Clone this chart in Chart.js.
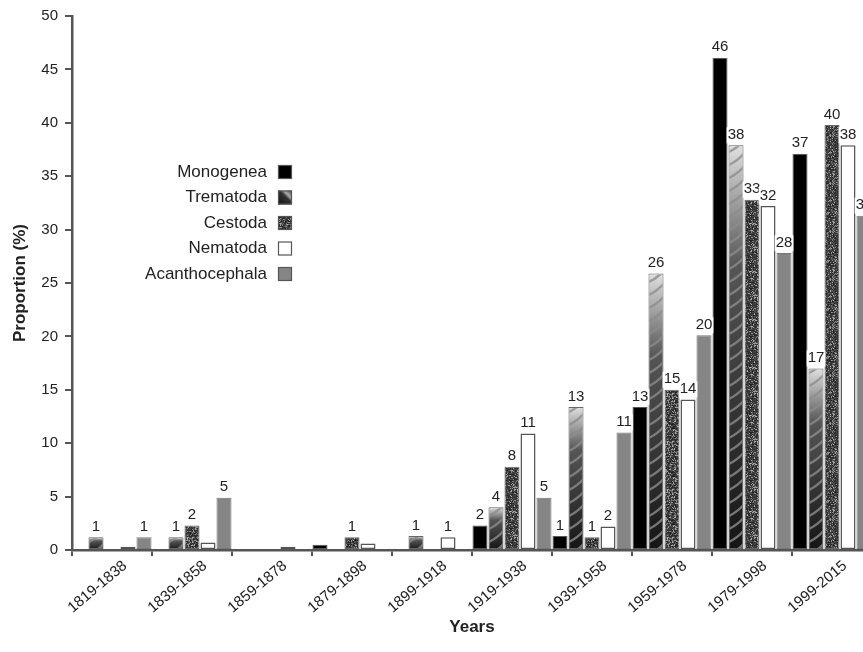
<!DOCTYPE html>
<html>
<head>
<meta charset="utf-8">
<script src="https://cdn.jsdelivr.net/npm/chart.js@4/dist/chart.umd.min.js"></script>
<style>
html, body { margin: 0; padding: 0; background: #fff; overflow: hidden; }
canvas { display: block; }
</style>
</head>
<body>
<canvas id="chart" width="890" height="652"></canvas>
<script>
const periods = ["1819-1838", "1839-1858", "1859-1878", "1879-1898", "1899-1918",
                 "1919-1938", "1939-1958", "1959-1978", "1979-1998", "1999-2015"];

const monogenea      = [0,   0,   0,   0.5, 0,   2.3, 1.3,  13.4, 46.1, 37.1];
const trematoda      = [1.2, 1.2, 0,   0,   1.3, 4.0, 13.4, 25.9, 37.9, 17.0];
const cestoda        = [0,   2.3, 0,   1.2, 0,   7.8, 1.2,  15.0, 32.8, 39.8];
const nematoda       = [0.3, 0.7, 0.3, 0.6, 1.2, 10.9, 2.2, 14.1, 32.2, 37.9];
const acanthocephala = [1.2, 4.9, 0,   0,   0,   4.9, 11.0, 20.1, 27.8, 31.3];

const FONT = '"Liberation Sans", Arial, sans-serif';
const TEXT = "#222";
const AXIS = "#555";

// speckled texture for Cestoda (fixed seed so it's the same every time)
function speckle() {
    const c = document.createElement("canvas");
    c.width = 48; c.height = 48;
    const g = c.getContext("2d");
    const img = g.createImageData(48, 48);
    let s = 12345;
    const rnd = () => (s = (s * 1103515245 + 12345) % 2147483648) / 2147483648;
    for (let i = 0; i < 48 * 48; i++) {
        const r = rnd();
        const v = r < 0.22 ? 110 + rnd() * 70 : 30 + rnd() * 55;
        img.data[i*4] = img.data[i*4+1] = img.data[i*4+2] = v;
        img.data[i*4+3] = 255;
    }
    g.putImageData(img, 0, 0);
    return g.createPattern(c, "repeat");
}
const cestodaFill = speckle();

// Trematoda: light at the top of each bar, dark at the bottom
function tremFill(c) {
    const chart = c.chart;
    if (!chart.chartArea || c.type !== "data") return "#555";
    const y = chart.scales.y;
    const top = y.getPixelForValue(c.raw), bottom = y.getPixelForValue(0);
    if (bottom - top < 1) return "#555";
    const g = chart.ctx.createLinearGradient(0, top, 0, bottom);
    g.addColorStop(0, "#e0e0e0");
    g.addColorStop(0.3, "#555");
    g.addColorStop(1, "#151515");
    return g;
}

const stripes = {
    id: "stripes",
    afterDatasetDraw(chart, args) {
        if (args.index !== 1) return;
        const ctx = chart.ctx;
        args.meta.data.forEach(bar => {
            const {x, y, base, width} = bar.getProps(["x", "y", "base", "width"], true);
            if (base - y < 2) return;
            const l = x - width / 2;
            ctx.save();
            ctx.beginPath();
            ctx.rect(l + 1, y + 1, width - 2, base - y - 2);
            ctx.clip();
            ctx.strokeStyle = "rgba(140,140,140,0.8)";
            ctx.lineWidth = 2.5;
            for (let sy = base + 14; sy > y - 14; sy -= 13) {
                ctx.beginPath();
                ctx.moveTo(l, sy + 5);
                ctx.quadraticCurveTo(x, sy + 2, l + width, sy - 6);
                ctx.stroke();
            }
            ctx.restore();
        });
    }
};

const valueLabels = {
    id: "valueLabels",
    afterDatasetsDraw(chart) {
        const ctx = chart.ctx;
        ctx.save();
        ctx.font = "15px " + FONT;
        ctx.textAlign = "center";
        ctx.textBaseline = "bottom";
        chart.data.datasets.forEach((ds, i) => {
            chart.getDatasetMeta(i).data.forEach((bar, j) => {
                const v = ds.data[j];
                if (v < 1) return;
                const txt = String(Math.round(v));
                const w = ctx.measureText(txt).width;
                ctx.fillStyle = "#fff";
                ctx.fillRect(bar.x - w / 2 - 1, bar.y - 18, w + 2, 16);
                ctx.fillStyle = TEXT;
                ctx.fillText(txt, bar.x, bar.y - 3);
            });
        });
        ctx.restore();
    }
};

// legend: right-aligned names with the swatch on the right
const sideLegend = {
    id: "sideLegend",
    afterDraw(chart) {
        const ctx = chart.ctx;
        ctx.save();
        ctx.font = "17px " + FONT;
        ctx.textAlign = "right";
        ctx.textBaseline = "middle";
        chart.data.datasets.forEach((ds, i) => {
            const cy = 172 + i * 25.5;
            ctx.fillStyle = TEXT;
            ctx.fillText(ds.label, 267, cy);
            let fill = ds.backgroundColor;
            if (i === 1) {
                fill = ctx.createLinearGradient(278, cy + 7, 292, cy - 7);
                fill.addColorStop(0, "#111");
                fill.addColorStop(0.55, "#333");
                fill.addColorStop(0.7, "#aaa");
                fill.addColorStop(1, "#444");
            }
            ctx.fillStyle = fill;
            ctx.fillRect(278, cy - 7, 14, 14);
            ctx.strokeStyle = AXIS;
            ctx.lineWidth = 1.2;
            ctx.strokeRect(278.5, cy - 6.5, 13, 13);
        });
        ctx.restore();
    }
};

new Chart(document.getElementById("chart"), {
    type: "bar",
    data: {
        labels: periods,
        datasets: [
            {label: "Monogenea", data: monogenea, backgroundColor: "#000", borderColor: "#555", borderWidth: 1},
            {label: "Trematoda", data: trematoda, backgroundColor: tremFill, borderColor: "#666", borderWidth: 1},
            {label: "Cestoda", data: cestoda, backgroundColor: cestodaFill, borderColor: "#666", borderWidth: 1},
            {label: "Nematoda", data: nematoda, backgroundColor: "#fff", borderColor: AXIS, borderWidth: 1.5},
            {label: "Acanthocephala", data: acanthocephala, backgroundColor: "#858585", borderColor: "#777", borderWidth: 1}
        ]
    },
    options: {
        responsive: false,
        animation: false,
        devicePixelRatio: 1,
        layout: {padding: {top: 15, right: 18, bottom: 0, left: 0}},
        datasets: {bar: {barPercentage: 0.94, categoryPercentage: 1, borderSkipped: false}},
        plugins: {
            legend: {display: false},
            tooltip: {enabled: false}
        },
        scales: {
            x: {
                afterFit: s => { s.height = 102; },
                border: {color: AXIS, width: 2.5},
                grid: {drawOnChartArea: false, drawTicks: true, tickLength: 6, color: AXIS, lineWidth: 2},
                ticks: {
                    color: TEXT, font: {family: FONT, size: 15},
                    minRotation: 40, maxRotation: 40, labelOffset: 13, padding: 1
                },
                title: {display: true, text: "Years", color: TEXT,
                        font: {family: FONT, size: 17, weight: "bold"}, padding: {top: 0, bottom: 14}}
            },
            y: {
                min: 0, max: 50,
                afterFit: s => { s.width = 72; },
                border: {color: AXIS, width: 2.5},
                grid: {drawOnChartArea: false, drawTicks: true, tickLength: 7, color: AXIS, lineWidth: 2},
                ticks: {stepSize: 5, color: TEXT, font: {family: FONT, size: 15}, padding: 7},
                title: {display: true, text: "Proportion (%)", color: TEXT,
                        font: {family: FONT, size: 17, weight: "bold"}, padding: {top: 10, bottom: 0}}
            }
        }
    },
    plugins: [stripes, valueLabels, sideLegend]
});
</script>
</body>
</html>
